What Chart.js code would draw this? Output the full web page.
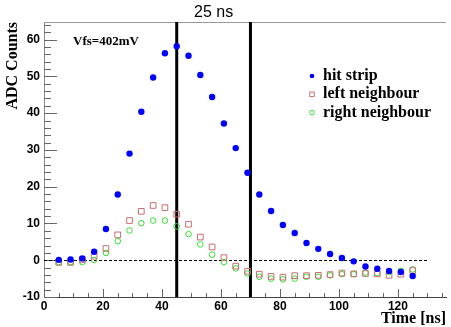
<!DOCTYPE html>
<html>
<head>
<meta charset="utf-8">
<script src="https://cdn.jsdelivr.net/npm/chart.js@4/dist/chart.umd.min.js"></script>
<style>
  html, body { margin: 0; padding: 0; background: #fff; }
  canvas { display: block; }
</style>
</head>
<body>
<canvas id="chart" width="451" height="327"></canvas>
<script>
// sampling times in ns
const times = [5, 9, 13, 17, 21, 25, 29, 33, 37, 41, 45, 49, 53, 57, 61, 65,
  69, 73, 77, 81, 85, 89, 93, 97, 101, 105, 109, 113, 117, 121, 125];

// pulse heights (ADC counts)
const hitStrip = [0.1, 0.2, 0.5, 2.3, 8.5, 17.9, 29.0, 40.4, 49.7, 56.3, 58.2, 55.6,
  50.4, 44.4, 37.2, 30.5, 23.8, 17.9, 13.4, 9.6, 7.4, 4.7, 3.1, 1.7, 0.6, -0.3,
  -1.7, -2.3, -2.9, -3.2, -4.3];
const leftNeighbour = [-0.6, -0.6, 0.2, 1.1, 3.2, 6.9, 10.8, 13.3, 14.9, 14.3, 12.5,
  9.8, 6.3, 3.6, 0.7, -1.6, -3.0, -3.8, -4.4, -4.6, -4.2, -4.2, -4.1, -3.9, -3.5,
  -3.7, -3.6, -3.7, -4.1, -3.8, -2.8];
const rightNeighbour = [-0.5, -0.5, -0.5, 0.1, 2.0, 5.2, 8.1, 10.1, 10.8, 10.8, 9.2,
  7.1, 4.3, 1.5, -0.5, -2.2, -3.6, -4.5, -5.0, -5.2, -5.0, -4.5, -4.5, -4.1, -3.8,
  -3.8, -3.4, -3.5, -3.2, -2.9, -2.5];

const seriesNames = ['hit strip', 'left neighbour', 'right neighbour'];
const windowEdges = [45, 70];
const windowLabel = '25 ns';
const settingLabel = 'Vfs=402mV';
const baselineSpan = [0, 130];

const xRange = [0, 136.3];
const yRange = [-10, 64.8];
const xMajor = 20, xMinor = 5;
const yMajor = 10, yMinor = 2;

const toPoints = values => values.map((v, i) => ({x: times[i], y: v}));

const serif = '"Liberation Serif", "Times New Roman", serif';
const sans = '"Liberation Sans", Arial, sans-serif';

function markerPath(ctx, style, x, y, r) {
  ctx.beginPath();
  if (style === 'rect') {
    ctx.rect(x - r * Math.SQRT1_2, y - r * Math.SQRT1_2, 2 * r * Math.SQRT1_2, 2 * r * Math.SQRT1_2);
  } else {
    ctx.arc(x, y, r, 0, Math.PI * 2);
  }
}

// frame, inner tick marks, baseline and the integration window lines
const underlay = {
  id: 'underlay',
  beforeDatasetsDraw(chart) {
    const {ctx, chartArea: area, scales: {x, y}} = chart;
    ctx.save();
    ctx.lineWidth = 1;

    ctx.strokeStyle = '#999';
    ctx.beginPath();
    ctx.moveTo(area.left, area.top + 0.5);
    ctx.lineTo(area.right, area.top + 0.5);
    ctx.stroke();

    ctx.strokeStyle = '#666';
    ctx.beginPath();
    for (let v = xRange[0]; v <= xRange[1]; v += xMinor) {
      const px = Math.round(x.getPixelForValue(v)) + 0.5;
      const len = v % xMajor === 0 ? 8 : 4;
      ctx.moveTo(px, area.bottom);
      ctx.lineTo(px, area.bottom - len);
    }
    for (let v = yRange[0]; v <= yRange[1]; v += yMinor) {
      const py = Math.round(y.getPixelForValue(v)) + 0.5;
      const len = v % yMajor === 0 ? 13 : 7;
      ctx.moveTo(area.left, py);
      ctx.lineTo(area.left + len, py);
    }
    ctx.stroke();

    ctx.strokeStyle = '#000';
    ctx.setLineDash([3, 2]);
    const y0 = Math.round(y.getPixelForValue(0)) + 0.5;
    ctx.beginPath();
    ctx.moveTo(x.getPixelForValue(baselineSpan[0]), y0);
    ctx.lineTo(x.getPixelForValue(baselineSpan[1]), y0);
    ctx.stroke();
    ctx.setLineDash([]);

    ctx.lineWidth = 3;
    windowEdges.forEach(t => {
      const px = x.getPixelForValue(t);
      ctx.beginPath();
      ctx.moveTo(px, area.top);
      ctx.lineTo(px, area.bottom);
      ctx.stroke();
    });
    ctx.restore();
  },
  afterDatasetsDraw(chart) {
    const {ctx, chartArea: area, scales: {x}} = chart;
    ctx.save();
    ctx.fillStyle = '#000';
    ctx.textBaseline = 'middle';

    ctx.font = '16px ' + sans;
    ctx.textAlign = 'center';
    const mid = (x.getPixelForValue(windowEdges[0]) + x.getPixelForValue(windowEdges[1])) / 2;
    ctx.fillText(windowLabel, mid, area.top - 9);

    ctx.font = 'bold 13px ' + serif;
    ctx.textAlign = 'left';
    ctx.fillText(settingLabel, area.left + 29, area.top + 20);

    // legend
    ctx.font = 'bold 16px ' + serif;
    chart.data.datasets.forEach((ds, i) => {
      const ly = 76 + i * 18.3;
      markerPath(ctx, ds.pointStyle, 312, ly, ds.pointStyle === 'rect' ? 3.2 : 2.3);
      if (ds.pointBorderWidth) {
        ctx.lineWidth = 1;
        ctx.strokeStyle = ds.borderColor;
        ctx.stroke();
      } else {
        ctx.fillStyle = ds.backgroundColor;
        ctx.fill();
      }
      ctx.fillStyle = '#000';
      ctx.fillText(ds.label, 323, ly);
    });
    ctx.restore();
  },
  afterDraw(chart) {
    // time axis numbers
    const {ctx, chartArea: area, scales: {x}} = chart;
    ctx.save();
    ctx.fillStyle = '#000';
    ctx.font = 'bold 12px ' + sans;
    ctx.textAlign = 'center';
    ctx.textBaseline = 'middle';
    x.ticks.forEach(t => {
      ctx.fillText(String(t.value), x.getPixelForValue(t.value), area.bottom + 10);
    });
    ctx.restore();
  }
};

const ctx = document.getElementById('chart').getContext('2d');

const chart = new Chart(ctx, {
  type: 'scatter',
  data: {
    datasets: [{
      label: seriesNames[0],
      data: toPoints(hitStrip),
      pointStyle: 'circle',
      pointRadius: 3.2,
      pointBorderWidth: 0,
      backgroundColor: '#0000ff',
      borderColor: '#0000ff'
    }, {
      label: seriesNames[1],
      data: toPoints(leftNeighbour),
      pointStyle: 'rect',
      pointRadius: 4,
      pointBorderWidth: 1,
      backgroundColor: 'rgba(0,0,0,0)',
      borderColor: '#c86e6e'
    }, {
      label: seriesNames[2],
      data: toPoints(rightNeighbour),
      pointStyle: 'circle',
      pointRadius: 2.8,
      pointBorderWidth: 1,
      backgroundColor: 'rgba(0,0,0,0)',
      borderColor: '#33dd33'
    }]
  },
  options: {
    responsive: false,
    animation: false,
    events: [],
    layout: {padding: {top: 22, right: 0, bottom: 0, left: 0}},
    plugins: {legend: {display: false}, tooltip: {enabled: false}},
    scales: {
      x: {
        type: 'linear',
        position: 'bottom',
        min: xRange[0],
        max: xRange[1],
        afterFit: scale => {
          scale.height = 30;
          scale.paddingLeft = 0;
          scale.paddingRight = 0;
        },
        grid: {display: false, drawTicks: false},
        border: {display: true, color: '#444', width: 1},
        ticks: {
          display: false,
          stepSize: xMajor,
          includeBounds: false,
          autoSkip: false,
          maxRotation: 0
        },
        title: {
          display: true,
          text: 'Time [ns]',
          align: 'end',
          color: '#000',
          padding: {top: 0, bottom: 0},
          font: {family: serif, size: 16, weight: 'bold', lineHeight: 1}
        }
      },
      y: {
        min: yRange[0],
        max: yRange[1],
        afterFit: scale => { scale.width = 44; },
        grid: {display: false, drawTicks: false},
        border: {display: true, color: '#888', width: 1},
        ticks: {
          stepSize: yMajor,
          includeBounds: false,
          padding: 4,
          color: '#000',
          font: {family: sans, size: 12, weight: 'bold'}
        },
        title: {
          display: true,
          text: 'ADC Counts',
          align: 'end',
          color: '#000',
          padding: {top: 5, bottom: 0},
          font: {family: serif, size: 16, weight: 'bold', lineHeight: 1}
        }
      }
    }
  },
  plugins: [underlay]
});
</script>
</body>
</html>
